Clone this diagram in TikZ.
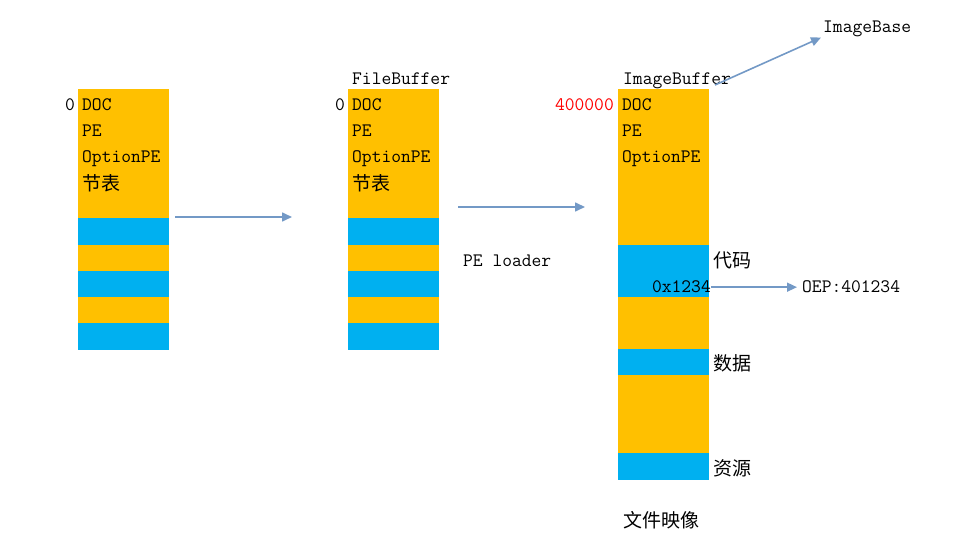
\documentclass[tikz,border=0pt]{standalone}
\usepackage{fontspec}
\newfontfamily\cjk{Noto Sans CJK SC}
\usetikzlibrary{positioning,arrows.meta}

\definecolor{hdrorange}{HTML}{FFC000}
\definecolor{secblue}{HTML}{00B0F0}
\definecolor{flowblue}{HTML}{7399C6}
\newcommand{\latfont}{\ttfamily\fontsize{19bp}{23bp}\selectfont}
\newcommand{\zhfont}{\cjk\fontsize{19bp}{23bp}\selectfont}

\tikzset{
  lbl/.style={font=\latfont,inner sep=0pt,anchor=base west},
  zh/.style={font=\zhfont,inner sep=0pt,anchor=west},
  flow/.style={draw=flowblue,line width=1.6bp,-{Triangle[length=10bp,width=9bp]}},
  hdr/.style={fill=hdrorange},
  sec/.style={fill=secblue}
}

\begin{document}
\begin{tikzpicture}[x=1bp,y=-1bp]
  \useasboundingbox (0,0) rectangle (958,543);

  % raw file and file buffer
  \foreach \x in {78,348} {
    \fill[hdr] (\x,89) rectangle ++(91,261);
    \foreach \y/\h in {218/27,271/26,323/27}
      \fill[sec] (\x,\y) rectangle ++(91,\h);
  }
  % image buffer
  \fill[hdr] (618,89) rectangle (709,480);
  \foreach \y/\h in {245/52,349/26,453/27}
    \fill[sec] (618,\y) rectangle ++(91,\h);

  % texts in the three buffers
  \node[lbl,anchor=base east] (z1) at (75,111) {0};
  \node[lbl] (doc1) at (82,111) {DOC};
  \node[lbl] (pe1) at (82,137) {PE};
  \node[lbl] (opt1) at (82,163) {OptionPE};
  \node[zh] (sec1) at (82,183) {节表};

  \node[lbl] (fbuf) at (352,85) {FileBuffer};
  \node[lbl,anchor=base east] (z2) at (345,111) {0};
  \node[lbl] (doc2) at (352,111) {DOC};
  \node[lbl] (pe2) at (352,137) {PE};
  \node[lbl] (opt2) at (352,163) {OptionPE};
  \node[zh] (sec2) at (352,183) {节表};

  \node[lbl] (ibuf) at (623,85) {ImageBuffer};
  \node[lbl,anchor=base east,text=red] (base) at (614,111) {400000};
  \node[lbl] (doc3) at (622,111) {DOC};
  \node[lbl] (pe3) at (622,137) {PE};
  \node[lbl] (opt3) at (622,163) {OptionPE};
  \node[zh] (code) at (713,260) {代码};
  \node[lbl,anchor=base east] (off) at (711,293) {0x1234};
  \node[zh] (data) at (713,363) {数据};
  \node[zh] (rsrc) at (713,468) {资源};
  \node[zh] (img) at (623,520) {文件映像};

  \node[lbl] (oep) at (802,293) {OEP:401234};
  \node[lbl] (ibase) at (823,33) {ImageBase};
  \node[lbl] (ldr) at (463,267) {PE loader};

  % arrows
  \coordinate (a1) at (175,217);
  \coordinate (b1) at (292,217);
  \coordinate (a2) at (458,207);
  \coordinate (b2) at (585,207);
  \coordinate (ibt) at (715,85);
  \draw[flow] (a1) -- (b1);
  \draw[flow] (a2) -- (b2);
  \draw[flow] (off.east) -- ([xshift=-5bp]off.east -| oep.west);
  \draw[flow] (ibt) -- ([xshift=-2bp]ibase.south west);
\end{tikzpicture}
\end{document}
